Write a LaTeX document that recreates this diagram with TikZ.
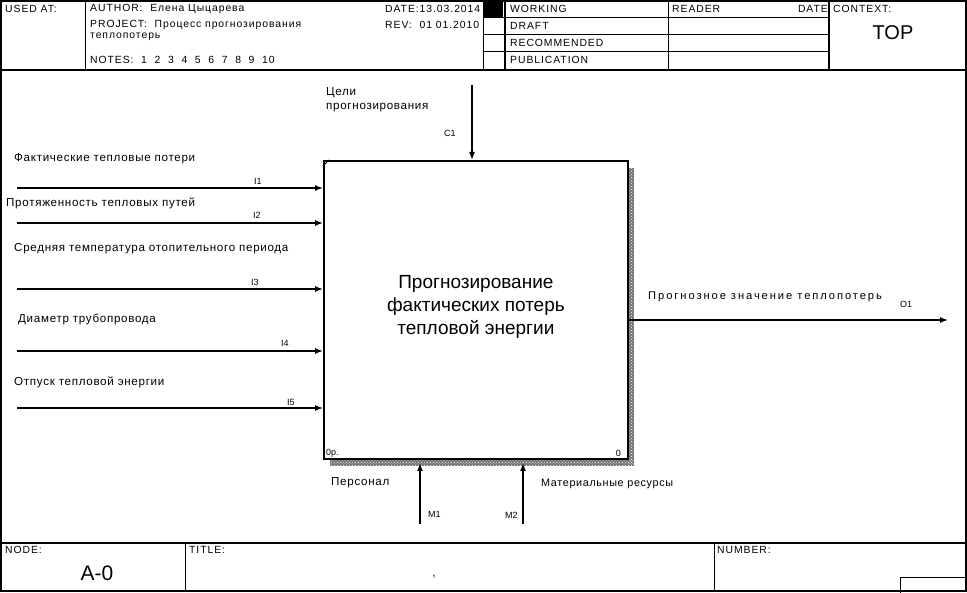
\documentclass[tikz,border=0pt]{standalone}
\usepackage{fontspec}
\setmainfont{Liberation Sans}
\newfontfamily\hfont[LetterSpace=9]{Liberation Sans}
\newfontfamily\lfont[LetterSpace=6]{Liberation Sans}
\newfontfamily\wfont[LetterSpace=17]{Liberation Sans}
\usetikzlibrary{patterns,arrows.meta}
\begin{document}
\begin{tikzpicture}[x=1pt,y=-1pt,
  frame/.style={line width=1.8pt},
  thin/.style={line width=0.9pt},
  hdr/.style={anchor=west,inner sep=0pt,font=\hfont\fontsize{10.4}{11}\selectfont},
  lbl/.style={anchor=west,inner sep=0pt,font=\lfont\fontsize{11.6}{12}\selectfont},
  code/.style={anchor=west,inner sep=0pt,font=\fontsize{9}{10}\selectfont},
  arr/.style={line width=1.4pt,-{Latex[length=8pt,width=6pt]}},
  shadebg/.style={fill=black!55,draw=none},
  shade/.style={pattern=crosshatch dots,pattern color=white,draw=none}]
\useasboundingbox (0,0) rectangle (967,593);
% header frame
\draw[frame] (1,1) -- (966,1) -- (966,591) -- (1,591) -- cycle;
\draw[frame] (1,70) -- (966,70);
\draw[thin] (85,1) -- (85,70);
\draw[thin] (483,1) -- (483,70);
\draw[frame] (505,1) -- (505,70);
\draw[thin] (668,1) -- (668,70);
\draw[frame] (829,1) -- (829,70);
\foreach \yy in {17,34,51} \draw[thin] (483,\yy) -- (829,\yy);
\fill (483,1) rectangle (503,17);
\node[hdr] (usedat) at (5,9) {USED AT:};
\node[hdr] (author) at (90,9) {AUTHOR:\ \ Елена Цыцарева};
\node[hdr] (project) at (90,25) {PROJECT:\ \ Процесс прогнозирования};
\node[hdr] (project2) at (90,37) {теплопотерь};
\node[hdr] (notes) at (90,60) {NOTES:\ \ 1\ \ 2\ \ 3\ \ 4\ \ 5\ \ 6\ \ 7\ \ 8\ \ 9\ \ 10};
\node[hdr] (date) at (385,9) {DATE:13.03.2014};
\node[hdr] (rev) at (385,25) {REV:\ \ 01 01.2010};
\node[hdr] (working) at (510,9) {WORKING};
\node[hdr] (draft) at (510,26) {DRAFT};
\node[hdr] (recom) at (510,43) {RECOMMENDED};
\node[hdr] (publ) at (510,60) {PUBLICATION};
\node[hdr] (reader) at (672,9) {READER};
\node[hdr,anchor=east] (rdate) at (828,9) {DATE};
\node[hdr] (context) at (833,9) {CONTEXT:};
\node[inner sep=0pt,font=\fontsize{20}{22}\selectfont] (top) at (893,33) {TOP};
% footer
\draw[frame] (1,543) -- (966,543);
\draw[thin] (185,543) -- (185,591);
\draw[thin] (714,543) -- (714,591);
\draw[thin] (900,593) -- (900,577) -- (966,577);
\node[hdr] (node) at (5,550) {NODE:};
\node[hdr] (title) at (189,550) {TITLE:};
\node[hdr] (number) at (717,550) {NUMBER:};
\node[inner sep=0pt,font=\fontsize{21}{22}\selectfont] (a0) at (97,573) {A-0};
\node[inner sep=0pt,font=\fontsize{12}{12}\selectfont] (comma) at (434,577) {,};
% shading
\fill[shadebg] (628,168) rectangle (634,466);
\fill[shadebg] (330,459) rectangle (634,466);
\fill[shade] (628,168) rectangle (634,466);
\fill[shade] (330,459) rectangle (634,466);
% main box
\node[draw,line width=1.8pt,fill=white,minimum width=304pt,minimum height=298pt,anchor=north west,inner sep=0pt] (box) at (323,160) {};
\node[align=center,inner sep=0pt,font=\fontsize{19}{23}\selectfont] (boxtext) at ([yshift=3pt]box.center)
  {Прогнозирование\\фактических потерь\\тепловой энергии};
\draw[line width=0.8pt] (box.north west) ++(0,6) -- ++(6,-6);
\node[code] (op) at (326,453) {0р.};
\node[code,anchor=east] (zero) at (621,453) {0};
% control
\coordinate (c1s) at (472,85);
\draw[arr] (c1s) -- (c1s |- box.north);
\node[lbl] (celi) at (326,93) {Цели};
\node[lbl] (celi2) at (326,108) {прогнозирования};
\node[code] (c1) at (444,133) {C1};
% inputs
\foreach \n/\yy in {1/188,2/223,3/289,4/351,5/408}{
  \coordinate (i\n s) at (17,\yy);
  \draw[arr] (i\n s) -- (i\n s -| box.west);
}
\node[lbl] (l1) at (14,159) {Фактические тепловые потери};
\node[code] (c_i1) at (254,181) {I1};
\node[lbl] (l2) at (6,203) {Протяженность тепловых путей};
\node[code] (c_i2) at (253,215) {I2};
\node[lbl] (l3) at (14,249) {Средняя температура отопительного периода};
\node[code] (c_i3) at (251,282) {I3};
\node[lbl] (l4) at (18,319) {Диаметр трубопровода};
\node[code] (c_i4) at (281,343) {I4};
\node[lbl] (l5) at (14,382) {Отпуск тепловой энергии};
\node[code] (c_i5) at (287,402) {I5};
% output
\coordinate (o1e) at (948,320);
\draw[arr] (o1e -| box.east) -- (o1e);
\node[anchor=west,inner sep=0pt,font=\wfont\fontsize{11.2}{12}\selectfont] (lo1) at (648,297) {Прогнозное значение теплопотерь};
\node[code] (co1) at (900,304) {O1};
% mechanisms
\coordinate (m1s) at (420,524);
\coordinate (m2s) at (523,524);
\draw[arr] (m1s) -- (420,463);
\draw[arr] (m2s) -- (523,463);
\node[lbl] (lm1) at (331,483) {Персонал};
\node[anchor=west,inner sep=0pt,font=\lfont\fontsize{10.8}{11}\selectfont] (lm2) at (541,484) {Материальные ресурсы};
\node[code] (cm1) at (428,514) {M1};
\node[code] (cm2) at (505,515) {M2};
\end{tikzpicture}
\end{document}
